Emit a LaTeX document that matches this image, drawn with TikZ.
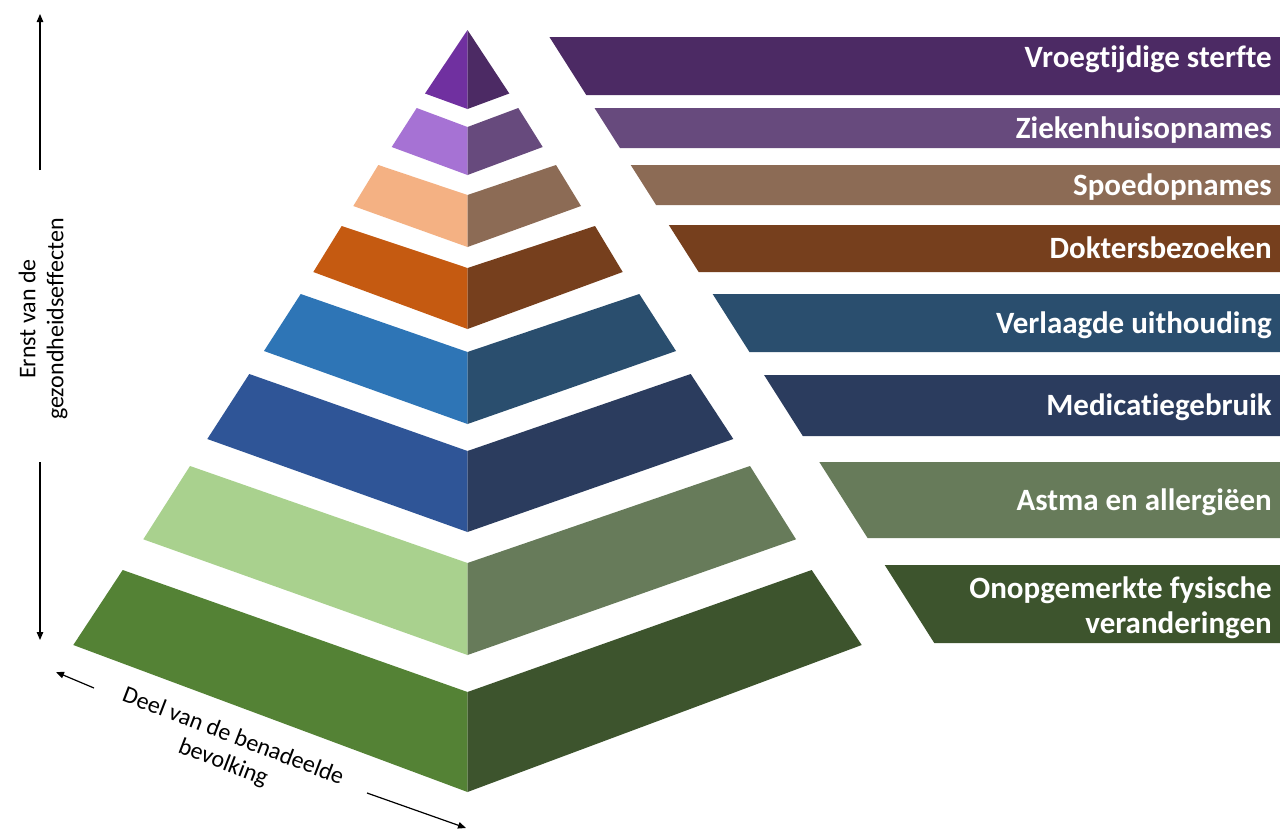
\documentclass[tikz,border=0pt]{standalone}
\usepackage{fontspec}
\setmainfont{Carlito}[Ligatures=NoCommon]
\usetikzlibrary{arrows.meta}
\definecolor{pAl}{HTML}{7030A0}\definecolor{pAr}{HTML}{4C2A64}
\definecolor{pBl}{HTML}{A672D4}\definecolor{pBr}{HTML}{674A7D}
\definecolor{pCl}{HTML}{F4B183}\definecolor{pCr}{HTML}{8C6B55}
\definecolor{pDl}{HTML}{C55A11}\definecolor{pDr}{HTML}{763F1D}
\definecolor{pEl}{HTML}{2E75B6}\definecolor{pEr}{HTML}{2A4E6E}
\definecolor{pFl}{HTML}{2F5597}\definecolor{pFr}{HTML}{2B3C5E}
\definecolor{pGl}{HTML}{A9D18E}\definecolor{pGr}{HTML}{677B5A}
\definecolor{pHl}{HTML}{548235}\definecolor{pHr}{HTML}{3D542D}
\tikzset{
  bannertext/.style={text=white, font=\fontsize{31}{35}\selectfont\bfseries, inner sep=0pt, align=right},
  axislabel/.style={font=\fontsize{24}{28}\selectfont, inner sep=0pt, align=center},
  axisarrow/.style={line width=1.2pt, -{Triangle[length=8pt,width=6.5pt]}},
}
\begin{document}
\begin{tikzpicture}[x=1pt,y=-1pt]
\useasboundingbox (0,0) rectangle (1280,830);
\fill[white] (0,0) rectangle (1280,830);
% pyramid layers: top y / top middle y / bottom y / bottom middle y / corner x values
\foreach \t/\tm/\b/\bm/\xtl/\xtr/\xbl/\xbr/\lc/\rc in {
  30/30/93.5/109/467.5/467.5/425/509.3/pAl/pAr,
  108/127/147/175/416.7/518.3/391.7/542.7/pBl/pBr,
  165/195/206/247/378.3/556/353.3/581/pCl/pCr,
  226/268/272/329/341.7/595/313.3/622.7/pDl/pDr,
  294/352/351/424/300.7/639.3/264/676/pEl/pEr,
  374/451/439/532/249.3/690.7/207.3/733.3/pFl/pFr,
  466/563/539.3/655/190/750/143.3/796/pGl/pGr,
  570/692/645/792/122.7/811.7/73.3/861.7/pHl/pHr}{
  \fill[\lc] (\xtl,\t) -- (467.5,\tm) -- (467.5,\bm) -- (\xbl,\b) -- cycle;
  \fill[\rc] (467.5,\tm) -- (\xtr,\t) -- (\xbr,\b) -- (467.5,\bm) -- cycle;
}
% banners
\foreach \t/\b/\col in {37/95/pAr, 108/148/pBr, 165/205/pCr, 225/272/pDr,
  294/352/pEr, 375/436/pFr, 462/538/pGr, 565/643/pHr}{
  \fill[\col] (545+0.635*\t-19.05,\t) -- (1280,\t) -- (1280,\b) -- (545+0.635*\b-19.05,\b) -- cycle;
}
\node[bannertext, anchor=base east] (b1) at (1272,67) {Vroegtijdige sterfte};
\node[bannertext, anchor=base east] (b2) at (1272,138) {Ziekenhuisopnames};
\node[bannertext, anchor=base east] (b3) at (1272,195.5) {Spoedopnames};
\node[bannertext, anchor=base east] (b4) at (1272,258.5) {Doktersbezoeken};
\node[bannertext, anchor=base east] (b5) at (1272,333) {Verlaagde uithouding};
\node[bannertext, anchor=base east] (b6) at (1272,415) {Medicatiegebruik};
\node[bannertext, anchor=base east] (b7) at (1272,510) {Astma en allergiëen};
\node[bannertext, anchor=east] (b8) at (1272,608) {Onopgemerkte fysische\\veranderingen};
% vertical axis
\node[axislabel, rotate=90] (ernst) at (43,319) {Ernst van de\\gezondheidseffecten};
\coordinate (up0) at (40,170); \coordinate (up1) at (40,14);
\coordinate (dn0) at (40,462); \coordinate (dn1) at (40,640);
\draw[axisarrow] (up0) -- (up1);
\draw[axisarrow] (dn0) -- (dn1);
% horizontal axis
\node[axislabel, rotate=-21] (deel) at (228,750) {Deel van de benadeelde\\bevolking};
\coordinate (l0) at (94,688); \coordinate (l1) at (56,672);
\coordinate (r0) at (367,793); \coordinate (r1) at (466,828);
\draw[axisarrow] (l0) -- (l1);
\draw[axisarrow] (r0) -- (r1);
\end{tikzpicture}
\end{document}
